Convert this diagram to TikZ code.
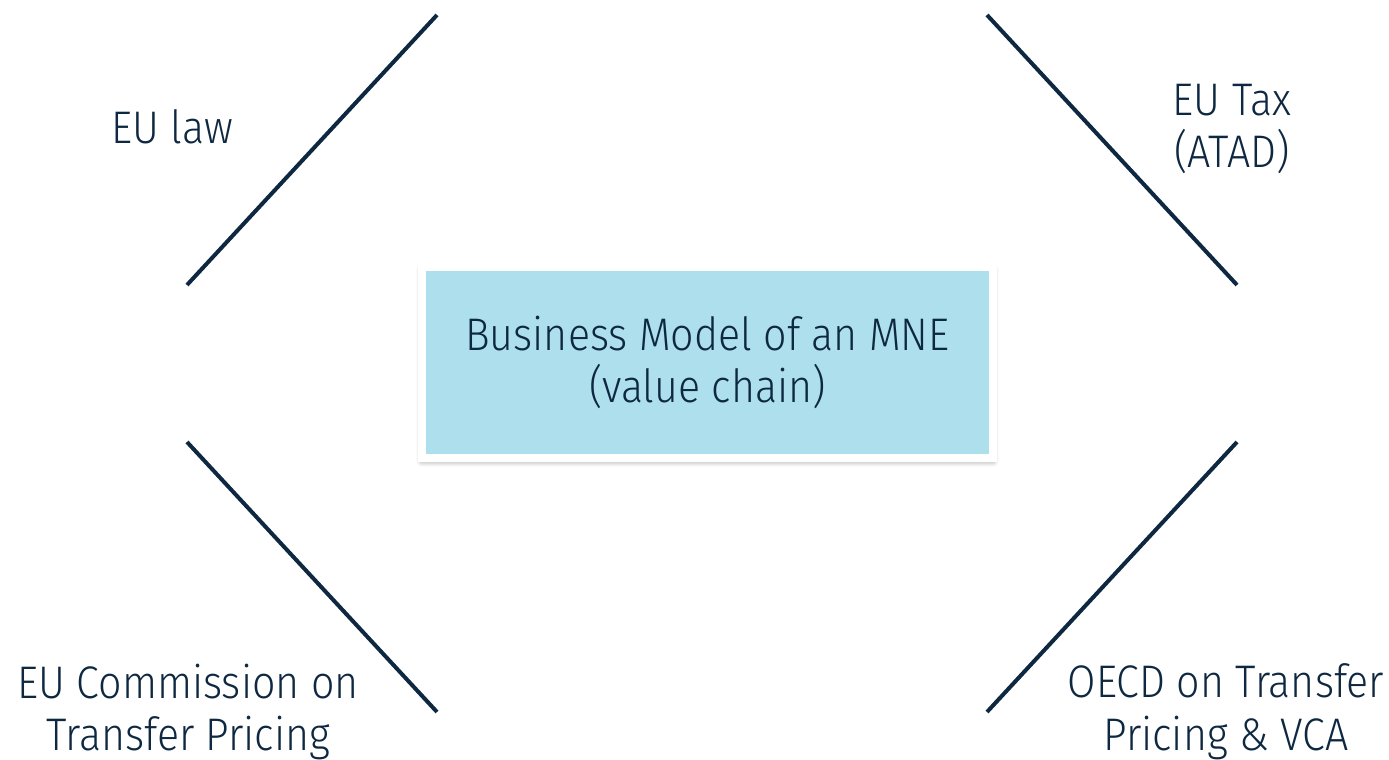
\documentclass[tikz,border=0pt]{standalone}
\usepackage{fontspec}
\setmainfont{Fira Sans}[UprightFont=* Light, FakeStretch=0.9]
\usetikzlibrary{shadows.blur}
\definecolor{navy}{HTML}{0E2841}
\definecolor{boxblue}{HTML}{ADDFEC}
\begin{document}
\begin{tikzpicture}[font=\fontsize{13}{15}\selectfont, text=navy]
    \useasboundingbox (0,0) rectangle (13.89,7.6);

    \draw[navy, line width=0.04cm] (1.87,4.75) -- (4.37,7.45);
    \draw[navy, line width=0.04cm] (9.87,7.45) -- (12.37,4.75);
    \draw[navy, line width=0.04cm] (1.87,3.18) -- (4.37,0.48);
    \draw[navy, line width=0.04cm] (9.87,0.48) -- (12.37,3.18);

    \node[fill=boxblue, draw=white, line width=0.08cm, minimum width=5.71cm, minimum height=1.91cm,
          align=center, blur shadow={shadow xshift=0cm, shadow yshift=-0.03cm, shadow blur radius=0.06cm,
          shadow blur steps=8, shadow opacity=45}]
          (mne) at (7.075,3.975) {Business Model of an MNE\\(value chain)};

    \node (law) at (1.72,6.33) {EU law};
    \node[align=center] (atad) at (12.32,6.31) {EU Tax\\(ATAD)};
    \node[align=center] (com) at (1.88,0.48) {EU Commission on\\Transfer Pricing};
    \node[align=center] (oecd) at (12.26,0.48) {OECD on Transfer\\Pricing \& VCA};
\end{tikzpicture}
\end{document}
